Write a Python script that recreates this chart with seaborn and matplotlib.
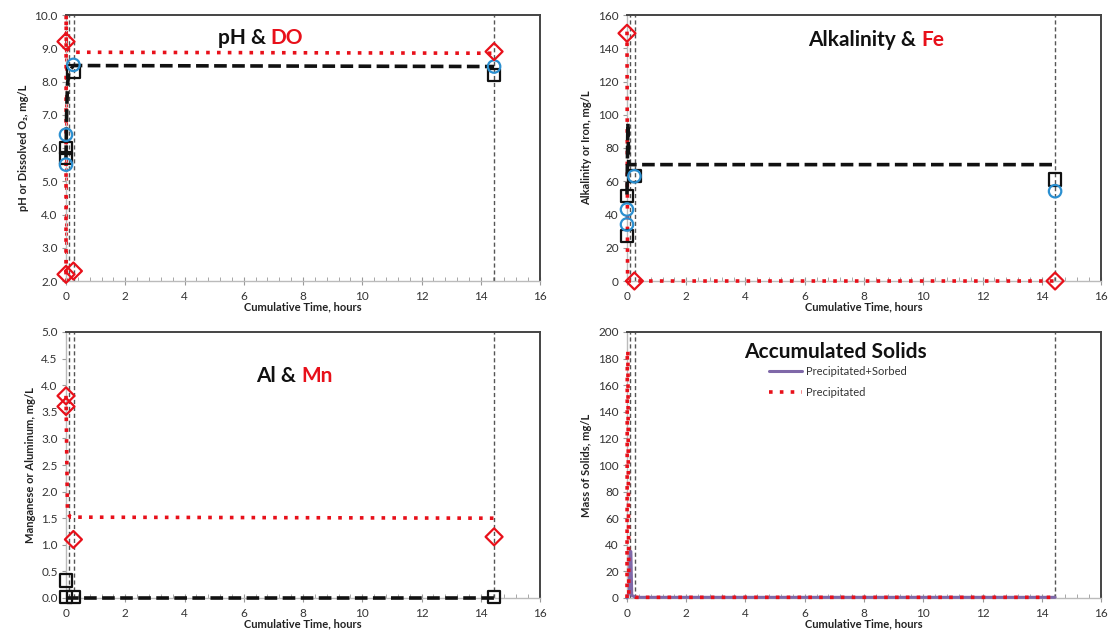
import numpy as np
import pandas as pd
import matplotlib
matplotlib.use("Agg")
import matplotlib.pyplot as plt
from matplotlib.ticker import MultipleLocator, FormatStrFormatter
import seaborn as sns

sns.set_style("ticks")
plt.rcParams["font.family"] = ["Lato", "DejaVu Sans"]

RED = "#e8101a"
BLUE = "#2b8fd0"
PURPLE = "#7f68a8"
BLACK = "#111111"
GRID_GRAY = "#555555"

# ---- stage boundaries (hours) ----
stage_times = [0.1, 0.27, 14.45]

# ---- pH & DO ----
ph_model_t = [0.0, 0.02, 0.05, 0.1, 0.25, 14.45]
ph_model = [5.7, 7.0, 7.9, 8.3, 8.48, 8.45]
do_model_t = [0.0, 0.005, 0.01, 0.3, 14.45]
do_model = [2.2, 10.0, 9.0, 8.88, 8.85]
ph_sq_t = [0.0, 0.0, 0.25, 14.45]
ph_sq = [5.7, 6.0, 8.3, 8.2]
ph_circ_t = [0.0, 0.0, 0.25, 14.45]
ph_circ = [5.5, 6.4, 8.5, 8.45]
do_meas_t = [0.0, 0.0, 0.25, 14.45]
do_meas = [9.2, 2.2, 2.3, 8.9]

# ---- Alkalinity & Fe ----
alk_model_t = [0.0, 0.03, 0.06, 0.1, 14.45]
alk_model = [52.0, 95.0, 70.0, 70.0, 70.0]
fe_model_t = [0.0, 0.02, 14.45]
fe_model = [150.0, 0.0, 0.0]
alk_sq_t = [0.0, 0.0, 0.25, 14.45]
alk_sq = [51.0, 27.0, 63.0, 61.0]
alk_circ_t = [0.0, 0.0, 0.25, 14.45]
alk_circ = [43.0, 34.0, 63.0, 54.0]
fe_meas_t = [0.0, 0.25, 14.45]
fe_meas = [149.0, 0.0, 0.0]

# ---- Al & Mn ----
mn_model_t = [0.0, 0.05, 0.15, 14.45]
mn_model = [3.8, 1.6, 1.52, 1.5]
al_model_t = [0.0, 14.45]
al_model = [0.0, 0.0]
mn_meas_t = [0.0, 0.0, 0.25, 14.45]
mn_meas = [3.8, 3.6, 1.1, 1.15]
al_meas_t = [0.0, 0.0, 0.25, 14.45]
al_meas = [0.33, 0.02, 0.02, 0.02]

# ---- Accumulated solids ----
sorbed_t = [0.0, 0.08, 0.1, 0.13, 0.16, 0.3, 14.45]
sorbed = [0.0, 5.0, 35.0, 35.0, 2.0, 0.5, 0.5]
precip_t = [0.0, 0.01, 0.03, 0.06, 0.3, 14.45]
precip = [0.0, 186.0, 186.0, 3.0, 0.5, 0.5]

W, H = 1111, 638
fig = plt.figure(figsize=(W / 100, H / 100), dpi=100)

def px_axes(x0, x1, ytop, ybot):
    return fig.add_axes([x0 / W, 1 - ybot / H, (x1 - x0) / W, (ybot - ytop) / H])

ax1 = px_axes(66, 540, 15, 281)
ax2 = px_axes(627, 1101, 15, 281)
ax3 = px_axes(66, 540, 332, 598)
ax4 = px_axes(627, 1101, 332, 598)

DOT = (0, (1, 2))
DASH = (0, (3.5, 1.5))

def model_line(ax, t, v, color, ls, lw=2.0, label=None):
    sns.lineplot(x=t, y=v, ax=ax, color=color, linestyle=ls, linewidth=lw,
                 estimator=None, sort=False, label=label, legend=False,
                 clip_on=False, zorder=3)

def markers(ax, t, v, marker, color, s):
    sns.scatterplot(x=t, y=v, ax=ax, marker=marker, s=s, facecolor="none",
                    edgecolor=color, linewidth=1.6, clip_on=False, zorder=5)

def style_axes(ax, ystep, fmt, ylabel):
    ax.set_xlim(0, 16)
    ax.xaxis.set_major_locator(MultipleLocator(2))
    ax.xaxis.set_minor_locator(MultipleLocator(0.4))
    ax.yaxis.set_major_locator(MultipleLocator(ystep))
    ax.yaxis.set_major_formatter(FormatStrFormatter(fmt))
    for side in ("top", "right"):
        ax.spines[side].set_visible(True)
        ax.spines[side].set_color("#444444")
        ax.spines[side].set_linewidth(1.4)
    for side in ("bottom", "left"):
        ax.spines[side].set_color("#bbbbbb")
        ax.spines[side].set_linewidth(1.0)
    ax.tick_params(axis="x", which="major", direction="inout", length=6,
                   color="#999999", labelsize=8.5, labelcolor="#333333", pad=4)
    ax.tick_params(axis="x", which="minor", direction="in", length=3, color="#999999")
    ax.tick_params(axis="y", which="major", direction="out", length=3,
                   color="#999999", labelsize=8.5, labelcolor="#333333", pad=3)
    ax.set_xlabel("Cumulative Time, hours", fontsize=8, fontweight="bold",
                  color="#222222", labelpad=0)
    ax.set_ylabel(ylabel, fontsize=8, fontweight="bold", color="#222222", labelpad=4)
    for t in stage_times:
        ax.axvline(t, color=GRID_GRAY, linestyle=(0, (3, 2)), linewidth=1.0, zorder=1)

def title2(ax, x, y, left, right):
    ax.text(x, y, left, transform=ax.transAxes, ha="right", va="center",
            fontsize=15, fontweight="bold", color=BLACK)
    ax.text(x, y, right, transform=ax.transAxes, ha="left", va="center",
            fontsize=15, fontweight="bold", color=RED)

# pH & DO panel
ax1.axvline(0.0, color=RED, linestyle=DOT, linewidth=2.2, zorder=2, clip_on=False)
model_line(ax1, do_model_t, do_model, RED, DOT, lw=2.6)
model_line(ax1, ph_model_t, ph_model, BLACK, DASH, lw=2.6)
markers(ax1, ph_sq_t, ph_sq, "s", BLACK, 80)
markers(ax1, ph_circ_t, ph_circ, "o", BLUE, 80)
markers(ax1, do_meas_t, do_meas, "D", RED, 75)
style_axes(ax1, 1.0, "%.1f", "pH or Dissolved O₂, mg/L")
ax1.set_ylim(2.0, 10.0)
title2(ax1, 0.432, 0.912, "pH & ", "DO")

# Alkalinity & Fe panel
model_line(ax2, fe_model_t, fe_model, RED, DOT, lw=2.6)
model_line(ax2, alk_model_t, alk_model, BLACK, DASH, lw=2.6)
markers(ax2, alk_sq_t, alk_sq, "s", BLACK, 80)
markers(ax2, alk_circ_t, alk_circ, "o", BLUE, 80)
markers(ax2, fe_meas_t, fe_meas, "D", RED, 75)
style_axes(ax2, 20, "%d", "Alkalinity or Iron, mg/L")
ax2.set_ylim(0, 160)
title2(ax2, 0.62, 0.905, "Alkalinity & ", "Fe")

# Al & Mn panel
model_line(ax3, mn_model_t, mn_model, RED, DOT, lw=2.6)
model_line(ax3, al_model_t, al_model, BLACK, DASH, lw=2.6)
markers(ax3, al_meas_t, al_meas, "s", BLACK, 80)
markers(ax3, mn_meas_t, mn_meas, "D", RED, 75)
style_axes(ax3, 0.5, "%.1f", "Manganese or Aluminum, mg/L")
ax3.set_ylim(0.0, 5.0)
title2(ax3, 0.497, 0.835, "Al & ", "Mn")

# Accumulated solids panel
model_line(ax4, sorbed_t, sorbed, PURPLE, "-", lw=2.2, label="Precipitated+Sorbed")
model_line(ax4, precip_t, precip, RED, DOT, lw=2.6, label="Precipitated")
style_axes(ax4, 20, "%d", "Mass of Solids, mg/L")
ax4.set_ylim(0, 200)
ax4.text(0.44, 0.925, "Accumulated Solids", transform=ax4.transAxes, ha="center",
         va="center", fontsize=15, fontweight="bold", color=BLACK)
leg = ax4.legend(loc="upper left", bbox_to_anchor=(0.29, 0.89), frameon=False,
                 fontsize=8, handlelength=3.0, handletextpad=0.3, labelspacing=0.9,
                 borderaxespad=0.0)
for txt in leg.get_texts():
    txt.set_color("#333333")

fig.savefig("out.png", dpi=100)
